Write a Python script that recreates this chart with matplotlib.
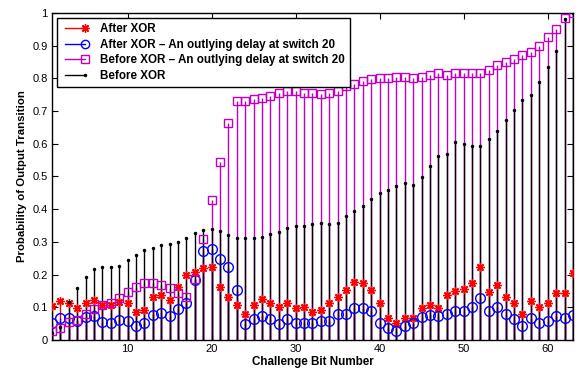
import numpy as np
import matplotlib
matplotlib.use('Agg')
import matplotlib.pyplot as plt
from matplotlib.lines import Line2D

plt.rcParams['font.family'] = ['Liberation Sans', 'DejaVu Sans']

# challenge bit index
bits = np.arange(1, 64)

# after XOR
after_xor = [0.104, 0.119, 0.112, 0.097, 0.112, 0.122, 0.107, 0.107, 0.117, 0.112,
             0.087, 0.092, 0.132, 0.138, 0.122, 0.163, 0.199, 0.209, 0.219, 0.224,
             0.161, 0.132, 0.107, 0.081, 0.107, 0.124, 0.112, 0.102, 0.112, 0.097,
             0.102, 0.087, 0.092, 0.112, 0.132, 0.153, 0.178, 0.173, 0.153, 0.112,
             0.068, 0.053, 0.068, 0.068, 0.097, 0.107, 0.097, 0.138, 0.150, 0.155,
             0.173, 0.224, 0.148, 0.168, 0.132, 0.112, 0.079, 0.119, 0.102, 0.112,
             0.143, 0.145, 0.204]

# after XOR, outlying delay at switch 20
after_xor_out = [0.053, 0.068, 0.068, 0.058, 0.071, 0.073, 0.056, 0.051, 0.061, 0.058,
                 0.043, 0.053, 0.078, 0.083, 0.073, 0.094, 0.114, 0.183, 0.273, 0.277,
                 0.248, 0.224, 0.153, 0.048, 0.063, 0.073, 0.063, 0.048, 0.063, 0.053,
                 0.053, 0.053, 0.058, 0.058, 0.081, 0.081, 0.097, 0.097, 0.089, 0.051,
                 0.038, 0.028, 0.043, 0.053, 0.071, 0.078, 0.073, 0.081, 0.089, 0.089,
                 0.102, 0.127, 0.089, 0.102, 0.081, 0.063, 0.043, 0.068, 0.053, 0.058,
                 0.073, 0.068, 0.078]

# before XOR, outlying delay at switch 20
before_xor_out = [0.027, 0.036, 0.054, 0.061, 0.079, 0.094, 0.107, 0.114, 0.129, 0.148,
                  0.163, 0.173, 0.173, 0.167, 0.158, 0.143, 0.132, 0.188, 0.308, 0.428,
                  0.544, 0.664, 0.730, 0.730, 0.736, 0.741, 0.745, 0.756, 0.762, 0.762,
                  0.756, 0.756, 0.752, 0.756, 0.762, 0.776, 0.782, 0.791, 0.797, 0.800,
                  0.800, 0.805, 0.805, 0.800, 0.805, 0.811, 0.815, 0.811, 0.815, 0.815,
                  0.815, 0.815, 0.825, 0.840, 0.850, 0.860, 0.870, 0.880, 0.900, 0.925,
                  0.950, 0.985, 1.000]

# before XOR
before_xor = [0.020, 0.040, 0.117, 0.158, 0.193, 0.218, 0.222, 0.222, 0.226, 0.246,
              0.260, 0.276, 0.280, 0.290, 0.295, 0.300, 0.311, 0.327, 0.336, 0.339,
              0.334, 0.321, 0.313, 0.313, 0.313, 0.316, 0.323, 0.329, 0.341, 0.349,
              0.349, 0.354, 0.358, 0.354, 0.358, 0.379, 0.394, 0.410, 0.430, 0.450,
              0.460, 0.472, 0.479, 0.474, 0.499, 0.533, 0.563, 0.568, 0.604, 0.600,
              0.594, 0.594, 0.614, 0.640, 0.674, 0.704, 0.733, 0.750, 0.789, 0.835,
              0.884, 0.980, 1.000]

labels = ['After XOR',
          'After XOR \u2013 An outlying delay at switch 20',
          'Before XOR \u2013 An outlying delay at switch 20',
          'Before XOR']

fig = plt.figure(figsize=(5.84, 3.70), dpi=100)
ax = fig.add_axes([0.089, 0.081, 0.892, 0.884])

lw = 1.0
ast = (8, 2, 0)  # asterisk marker

# stems
ax.vlines(bits, 0, after_xor, color='r', lw=lw, zorder=1)
ax.vlines(bits, 0, after_xor_out, color='b', lw=lw, zorder=1.1)
ax.vlines(bits, 0, before_xor_out, color='m', lw=lw, zorder=1.2)
ax.vlines(bits, 0, before_xor, color='k', lw=lw, zorder=1.3)

# markers
ax.plot(bits, after_xor, ls='none', marker=ast, ms=6, color='r',
        mec='r', mew=1.0, zorder=3)
ax.plot(bits, after_xor_out, ls='none', marker='o', ms=7, mfc='none',
        mec='b', mew=1.0, zorder=3)
ax.plot(bits, before_xor_out, ls='none', marker='s', ms=6, mfc='none',
        mec='m', mew=1.0, zorder=3)
ax.plot(bits, before_xor, ls='none', marker='.', ms=3, color='k', zorder=3)

ax.set_xlim(1, 63)
ax.set_ylim(0, 1)
ax.set_xticks([10, 20, 30, 40, 50, 60])
ax.set_yticks(np.arange(0, 1.01, 0.1))
ax.set_yticklabels(['0', '0.1', '0.2', '0.3', '0.4', '0.5', '0.6', '0.7',
                    '0.8', '0.9', '1'])
ax.tick_params(direction='in', top=True, right=True, length=4, width=0.8,
               labelsize=8, pad=3)
for s in ax.spines.values():
    s.set_linewidth(1.0)

ax.set_xlabel('Challenge Bit Number', fontsize=8.4, fontweight='bold', labelpad=1)
ax.set_ylabel('Probability of Output Transition', fontsize=8.2,
              fontweight='bold', labelpad=4)

handles = [
    Line2D([], [], color='r', lw=1.0, marker=ast, ms=6, markevery=[1]),
    Line2D([], [], color='b', lw=1.0, marker='o', ms=6, mfc='none', markevery=[1]),
    Line2D([], [], color='m', lw=1.0, marker='s', ms=5.5, mfc='none', markevery=[1]),
    Line2D([], [], color='k', lw=1.0, marker='.', ms=3, markevery=[1]),
]
leg = ax.legend(handles, labels, loc='upper left', numpoints=2,
                prop={'weight': 'bold', 'size': 8.4}, frameon=True,
                fancybox=False, edgecolor='k', framealpha=1,
                borderaxespad=0.4, handlelength=2.3, handletextpad=1.0,
                labelspacing=0.32, borderpad=0.45)
leg.get_frame().set_linewidth(1.0)
for h in leg.legend_handles:
    h.set_markevery([1])

fig.savefig('out.png', dpi=100)
